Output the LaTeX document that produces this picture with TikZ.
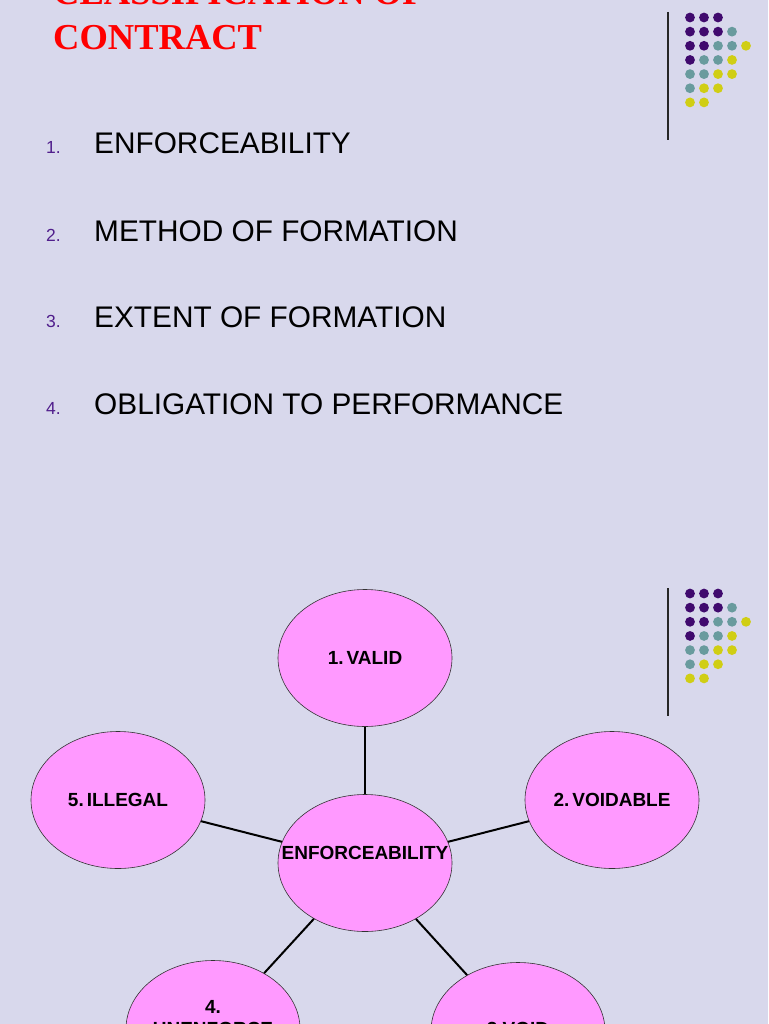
\documentclass[tikz,border=0pt]{standalone}
\usepackage{fontspec}
\setmainfont{Liberation Serif}
\setsansfont{Liberation Sans}
\usetikzlibrary{shapes.geometric}
\definecolor{bgc}{RGB}{216,216,236}
\definecolor{pinkc}{RGB}{255,153,255}
\definecolor{numc}{RGB}{80,30,140}
\definecolor{dotP}{RGB}{64,10,110}
\definecolor{dotT}{RGB}{105,155,158}
\definecolor{dotY}{RGB}{208,206,20}
\tikzset{
  bubble/.style={ellipse, draw=black!80, line width=0.6pt, fill=pinkc,
    minimum width=174pt, minimum height=137pt, inner sep=0pt,
    font=\sffamily\bfseries\fontsize{19}{22}\selectfont, align=center},
  btext/.style={font=\sffamily\bfseries\fontsize{19}{22}\selectfont, align=center, inner sep=0pt},
  conn/.style={line width=2pt, black},
  itemnum/.style={anchor=base west, inner sep=0pt, text=numc, font=\sffamily\fontsize{17.5}{20}\selectfont},
  itemtxt/.style={anchor=base west, inner sep=0pt, font=\sffamily\fontsize{29.8}{33}\selectfont},
  titletxt/.style={anchor=base west, inner sep=0pt, text=red, font=\rmfamily\bfseries\fontsize{36.5}{40}\selectfont},
  vline/.style={line width=1.3pt, black!85},
}
\begin{document}
\begin{tikzpicture}[x=1pt,y=-1pt]
\useasboundingbox (0,0) rectangle (768,1024);
\clip (0,0) rectangle (768,1024);
\fill[bgc] (0,0) rectangle (768,1024);

% title
\node[titletxt] (t1) at (53,5) {CLASSIFICATION OF};
\node[titletxt] (t2) at (53,50) {CONTRACT};

% list
\node[itemnum] (n1) at (46,154) {1.};
\node[itemtxt] (i1) at (94,154) {ENFORCEABILITY};
\node[itemnum] (n2) at (46,241) {2.};
\node[itemtxt] (i2) at (94,241) {METHOD OF FORMATION};
\node[itemnum] (n3) at (46,327) {3.};
\node[itemtxt] (i3) at (94,327) {EXTENT OF FORMATION};
\node[itemnum] (n4) at (46,414) {4.};
\node[itemtxt] (i4) at (94,414) {OBLIGATION TO PERFORMANCE};

% decorations
\foreach \oy in {0,576}{
  \draw[vline] (668,12+\oy) -- (668,140+\oy);
  \foreach \c/\r/\col in {0/0/dotP,1/0/dotP,2/0/dotP,
      0/1/dotP,1/1/dotP,2/1/dotP,3/1/dotT,
      0/2/dotP,1/2/dotP,2/2/dotT,3/2/dotT,4/2/dotY,
      0/3/dotP,1/3/dotT,2/3/dotT,3/3/dotY,
      0/4/dotT,1/4/dotT,2/4/dotY,3/4/dotY,
      0/5/dotT,1/5/dotY,2/5/dotY,
      0/6/dotY,1/6/dotY}{
    \fill[\col] (690+14*\c,17.5+14.15*\r+\oy) circle (4.9);
  }
}

% diagram
\node[bubble] (valid) at (365,658) {1.\hspace{3pt}VALID};
\node[bubble] (illegal) at (118,800) {5.\hspace{3pt}ILLEGAL};
\node[bubble] (voidable) at (612,800) {2.\hspace{3pt}VOIDABLE};
\node[bubble] (center) at (365,863) {};
\node[btext] (centerlbl) at (365,853) {ENFORCEABILITY};
\node[bubble] (unenf) at (213,1029) {};
\node[btext, anchor=base] (unenflbl) at (213,1057) {4.\\UNENFORCE\\ABLE};
\node[bubble] (void) at (518,1031) {};
\node[btext, anchor=base] (voidlbl) at (518,1035) {3.VOID};

\draw[conn] (valid) -- (center);
\draw[conn] (illegal) -- (center);
\draw[conn] (voidable) -- (center);
\draw[conn] (center) -- (unenf);
\draw[conn] (center) -- (void);
\end{tikzpicture}
\end{document}
